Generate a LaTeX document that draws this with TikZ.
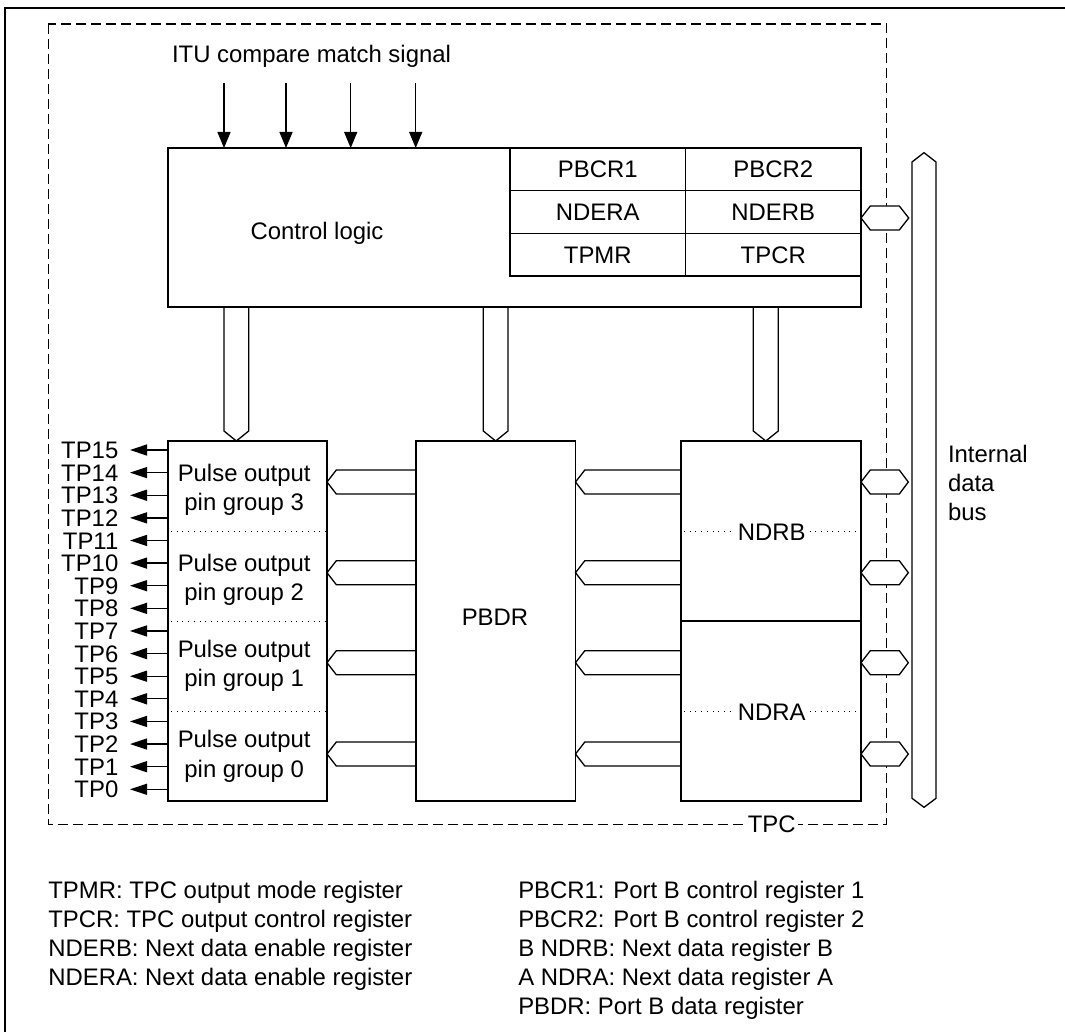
\documentclass[tikz,border=0pt]{standalone}
\usepackage{fontspec}
\setmainfont{Liberation Sans}
\usetikzlibrary{arrows.meta,calc}
\begin{document}
\begin{tikzpicture}[x=1pt,y=-1pt,
  box/.style={draw, line width=1.3pt, inner sep=0pt, outer sep=0pt, anchor=north west},
  txt/.style={inner sep=0pt, outer sep=0pt, text height=17.1pt, text depth=0pt, font=\fontsize{23.9}{29}\selectfont},
  cell/.style={box, txt, anchor=north west, minimum width=175.5pt, minimum height=42.67pt},
  busline/.style={draw, line width=1.3pt, line join=miter},
  hexbus/.style={busline, fill=white},
  dots/.style={line width=1pt, dash pattern=on 1pt off 4.7pt},
  tparrow/.style={line width=1.3pt, -{Triangle[length=17pt,width=11pt]}},
  ituarrow/.style={line width=1.3pt, -{Triangle[length=16pt,width=13pt]}},
  tpcbox/.style={line width=1.3pt, dash pattern=on 10pt off 5pt},
]
\useasboundingbox (0,0) rectangle (1065,1032);
% outer frame
\draw[line width=2.6pt] (5,1045) -- (5,8) -- (1075,8);
% TPC dashed boundary
\draw[tpcbox] (48.3,24) rectangle (886.7,824.3);
\node[txt, fill=white, inner xsep=2pt] (tpc) at (771.7,824.3) {TPC};

% control logic block
\node[box, minimum width=693pt, minimum height=159pt] (ctrl) at (168,148) {};
\node[txt] (ctrltxt) at (317,230.5) {Control logic};
\node[cell] (pbcr1) at (510,148) {PBCR1};
\node[cell] (pbcr2) at (685.5,148) {PBCR2};
\node[cell] (ndera) at (510,190.67) {NDERA};
\node[cell] (nderb) at (685.5,190.67) {NDERB};
\node[cell] (tpmr) at (510,233.33) {TPMR};
\node[cell] (tpcr) at (685.5,233.33) {TPCR};

% ITU inputs
\node[txt] (itu) at (311.5,53.8) {ITU compare match signal};
\foreach \x in {224,286,350.7,415.7}
  \draw[ituarrow] (\x,83) -- (\x,0 |- ctrl.north);

% lower blocks
\node[box, minimum width=159pt, minimum height=360pt] (pulse) at (168,441) {};
\node[box, minimum width=159.5pt, minimum height=360pt] (pbdr) at (416,441) {};
\node[box, minimum width=180pt, minimum height=360pt] (ndr) at (681,441) {};
\draw[line width=2.2pt] (ndr.west) -- (ndr.east);

% pulse group separators
\foreach \d in {90,180,270}
  \draw[dots] ($(pulse.north west)+(3,\d)$) -- ($(pulse.north east)+(0,\d)$);

% pulse group labels
\node[txt] (pg3a) at (244.2,472.5) {Pulse output};
\node[txt] (pg3b) at (244.2,502) {pin group 3};
\node[txt] (pg2a) at (244.2,563.3) {Pulse output};
\node[txt] (pg2b) at (244.2,592.3) {pin group 2};
\node[txt] (pg1a) at (244.2,649.2) {Pulse output};
\node[txt] (pg1b) at (244.2,678.3) {pin group 1};
\node[txt] (pg0a) at (244.2,739) {Pulse output};
\node[txt] (pg0b) at (244.2,768.7) {pin group 0};

\node[txt] (pbdrtxt) at (495,616.7) {PBDR};

% NDRB / NDRA labels with dotted guides
\node[txt] (ndrb) at (771.7,532) {NDRB};
\node[txt] (ndra) at (771.7,712.3) {NDRA};
\foreach \n in {ndrb,ndra} {
  \draw[dots] ($(ndr.west |- \n)+(3,-1)$) -- ($(\n.west)+(-4,-1)$);
  \draw[dots] ($(\n.east)+(4,-1)$) -- ($(ndr.east |- \n)+(0,-1)$);
}

% TP outputs
\foreach \i in {0,...,15} {
  \pgfmathsetmacro\yy{450+(15-\i)*22.62}
  \node[txt, anchor=east] (tp\i) at (118.3,\yy) {TP\i};
  \draw[tparrow] (pulse.west |- tp\i) -- ([xshift=11.7pt]tp\i.east);
}

% vertical buses from control logic
\foreach \xa/\xb/\xm/\tg in {224/248.7/236.35/pulse, 483.3/508/495.65/pbdr, 753.3/778.3/765.8/ndr}
  \draw[busline] (\xa,0 |- ctrl.south) -- ($(\xa,0 |- \tg.north)+(0,-10)$)
    -- (\xm,0 |- \tg.north) -- ($(\xb,0 |- \tg.north)+(0,-10)$) -- (\xb,0 |- ctrl.south);

% horizontal buses
\foreach \yy in {482,572.7,662.7,754} {
  \coordinate (r) at (0,\yy);
  \draw[busline] ($(pbdr.west |- r)+(0,-12)$) -- ($(pulse.east |- r)+(9.3,-12)$)
    -- (pulse.east |- r) -- ($(pulse.east |- r)+(9.3,12)$) -- ($(pbdr.west |- r)+(0,12)$);
  \draw[busline] ($(ndr.west |- r)+(0,-12)$) -- ($(pbdr.east |- r)+(9.3,-12)$)
    -- (pbdr.east |- r) -- ($(pbdr.east |- r)+(9.3,12)$) -- ($(ndr.west |- r)+(0,12)$);
  \draw[hexbus] (ndr.east |- r) -- ++(9.3,-12) -- ++(29,0) -- ++(9,12)
    -- ++(-9,12) -- ++(-29,0) -- cycle;
}
\coordinate (rc) at (0,218);
\draw[hexbus] (ctrl.east |- rc) -- ++(9.3,-12) -- ++(29,0) -- ++(9.4,12)
  -- ++(-9.4,12) -- ++(-29,0) -- cycle;

% internal data bus
\coordinate (dbus) at (924,480);
\draw[busline] (912,162) -- (924,152.7) -- (936,162) -- (936,798.3)
  -- (924,807.3) -- (912,798.3) -- cycle;
\node[txt, anchor=west] (ib1) at (948,453.8) {Internal};
\node[txt, anchor=west] (ib2) at (948,482.8) {data};
\node[txt, anchor=west] (ib3) at (948,512) {bus};

% legend
\node[txt, anchor=west] (l1) at (48.3,890.3) {TPMR: TPC output mode register};
\node[txt, anchor=west] (l2) at (48.3,919.3) {TPCR: TPC output control register};
\node[txt, anchor=west] (l3) at (48.3,948.3) {NDERB: Next data enable register};
\node[txt, anchor=west] (l4) at (48.3,977.3) {NDERA: Next data enable register};
\node[txt, anchor=west] (m1) at (518.3,890.3) {PBCR1: Port B control register 1};
\node[txt, anchor=west] (m2) at (518.3,919.3) {PBCR2: Port B control register 2};
\node[txt, anchor=west] (m3) at (518.3,948.3) {B NDRB: Next data register B};
\node[txt, anchor=west] (m4) at (518.3,977.3) {A NDRA: Next data register A};
\node[txt, anchor=west] (m5) at (518.3,1006.3) {PBDR: Port B data register};
\end{tikzpicture}
\end{document}
